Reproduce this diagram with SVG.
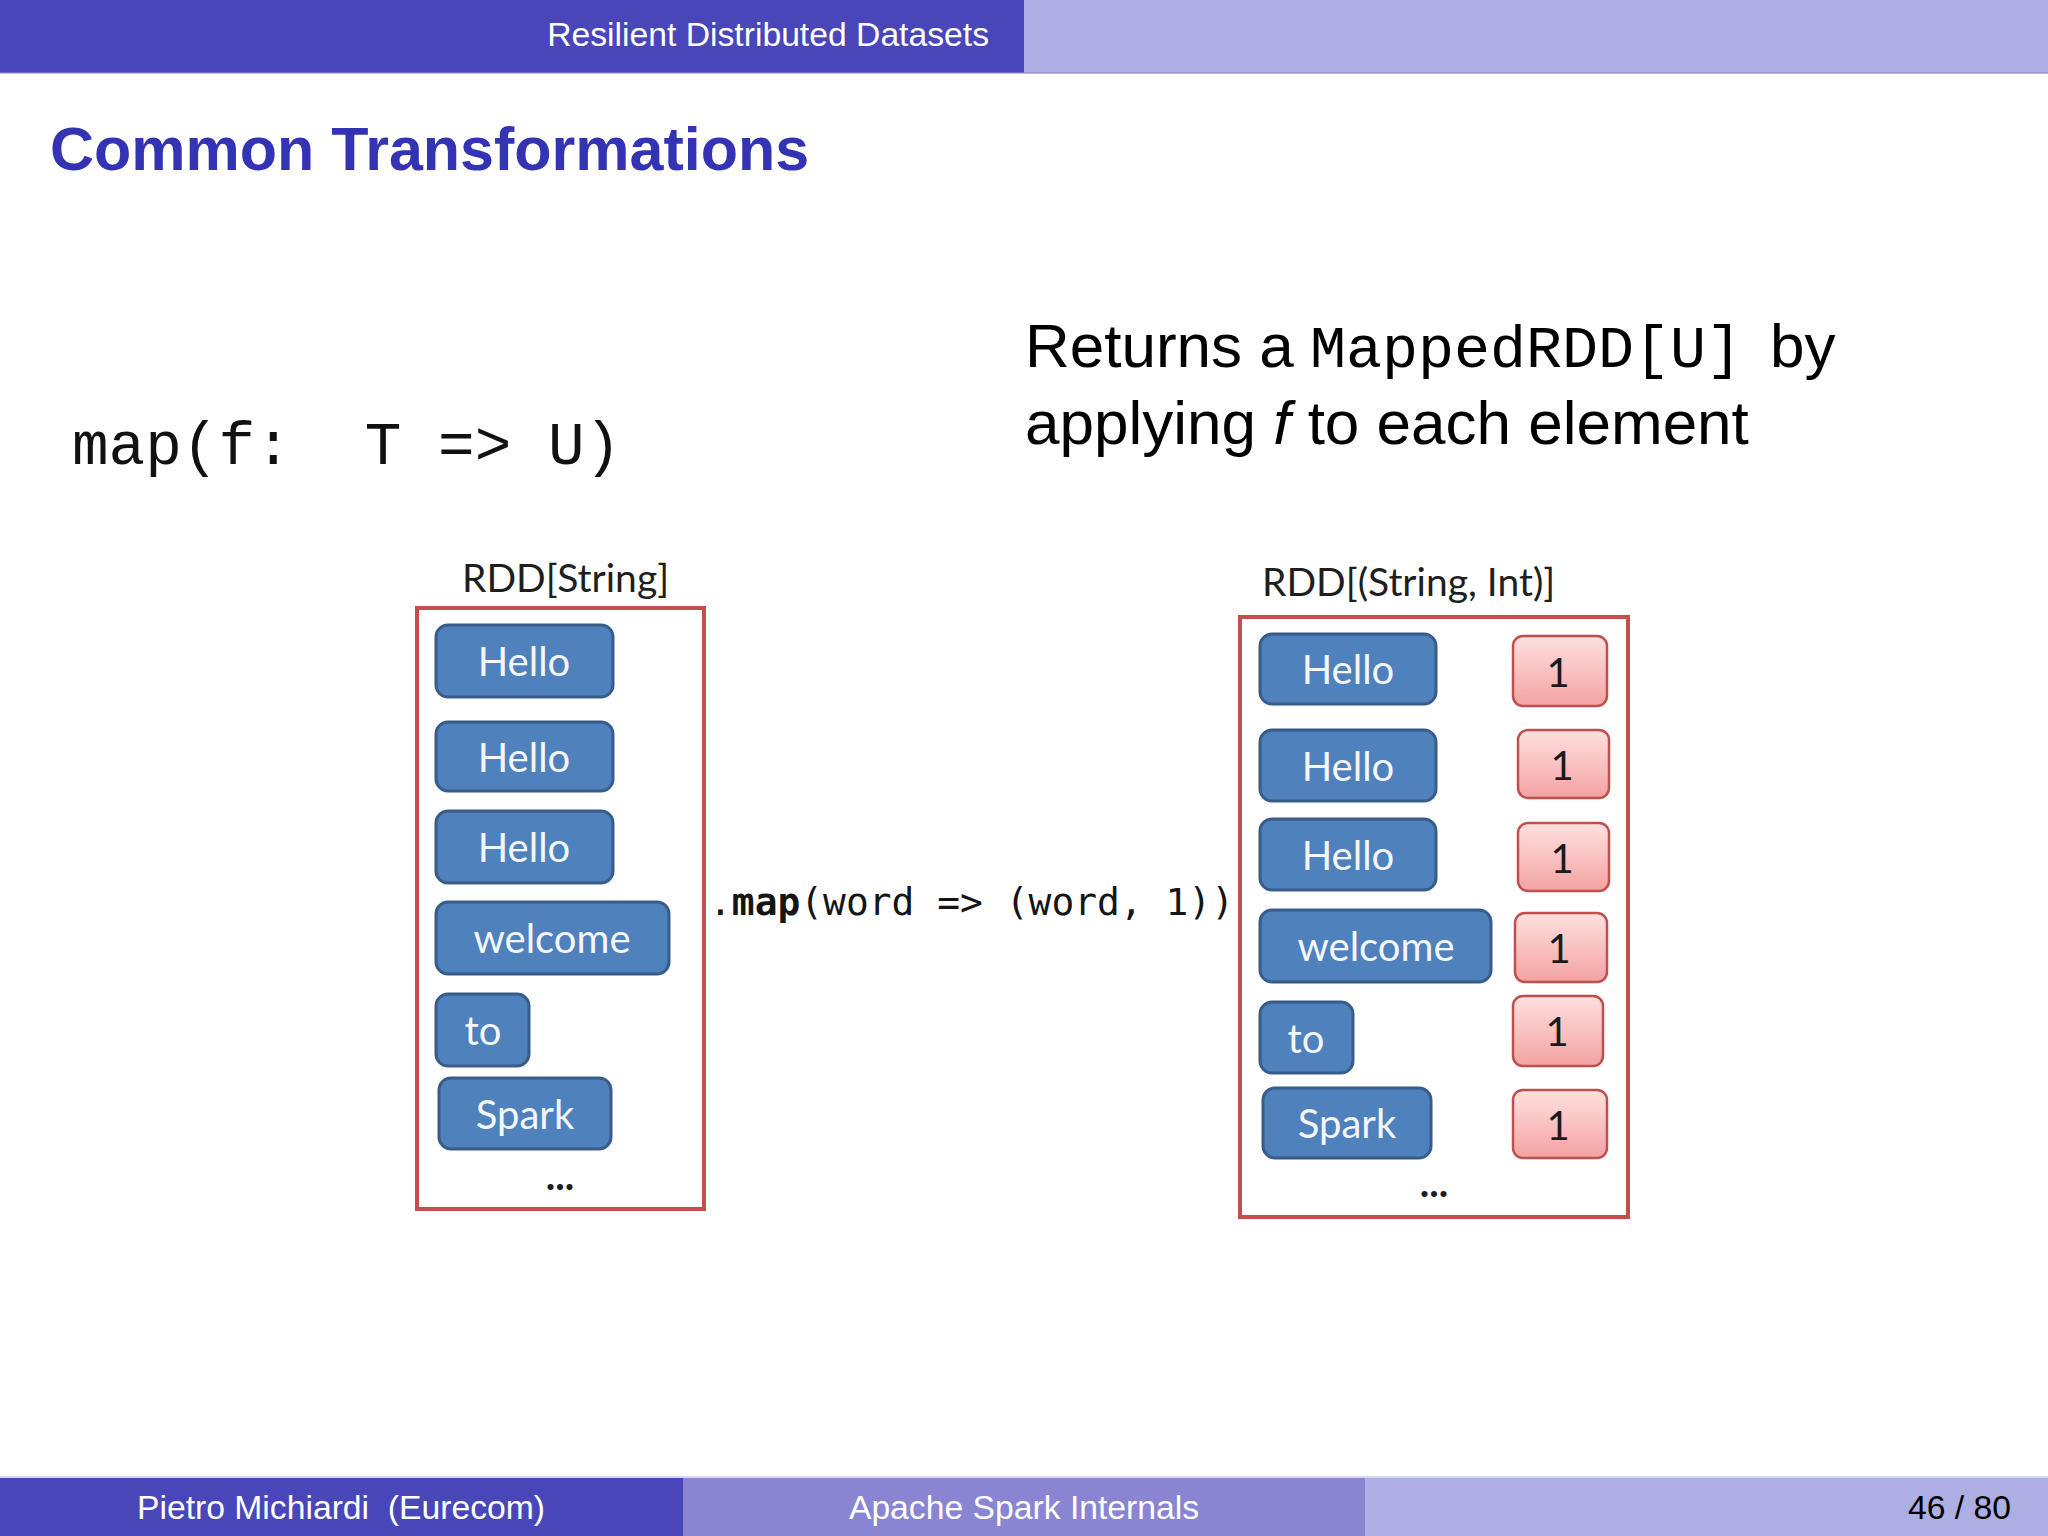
<svg xmlns="http://www.w3.org/2000/svg" width="2048" height="1536" viewBox="0 0 2048 1536">
<defs>
<linearGradient id="pink" x1="0" y1="0" x2="0" y2="1">
<stop offset="0" stop-color="#ffe0e0"/>
<stop offset="1" stop-color="#f4a2a2"/>
</linearGradient>
<style>
.sans{font-family:"Liberation Sans",Arial,sans-serif}
.mono{font-family:"Liberation Mono","Courier New",monospace}
.frame{fill:none;stroke:#c0504d;stroke-width:4}
.blue rect{fill:#4f81bd;stroke:#385d8a;stroke-width:3}
.blue text{fill:#f4f6fa;font-family:Lato,"Open Sans",sans-serif;font-size:40px;text-anchor:middle}
.pinkb rect{fill:url(#pink);stroke:#c0504d;stroke-width:2.5}
.pinkb text{fill:#1a1a1a;font-family:Lato,"Open Sans",sans-serif;font-size:40px;text-anchor:middle}
.lbl{font-family:Lato,"Open Sans",sans-serif;font-size:39px;fill:#1e1e1e}
.dots{font-family:Lato,sans-serif;font-size:40px;font-weight:bold;fill:#1e1e1e;text-anchor:middle}
.hdr{font-family:"Liberation Sans",Arial,sans-serif;font-size:33.7px;fill:#ffffff}
</style>
</defs>
<rect width="2048" height="1536" fill="#ffffff"/>
<g id="header">
<rect x="0" y="0" width="1024" height="73" fill="#4946b9"/>
<rect x="1024" y="0" width="1024" height="73" fill="#adaee3"/>
<rect x="0" y="72" width="2048" height="2" fill="#8f8cd0" opacity="0.6"/>
<text class="hdr" x="989" y="46" text-anchor="end">Resilient Distributed Datasets</text>
</g>
<text id="title" class="sans" x="50" y="170" font-size="61" font-weight="bold" fill="#3333b3">Common Transformations</text>
<text id="signature" class="mono" x="72" y="464" font-size="61" fill="#111" xml:space="preserve">map(f:  T =&gt; U)</text>
<text id="desc" class="sans" font-size="62" fill="#000">
<tspan x="1025" y="367">Returns a </tspan><tspan class="mono" x="1310" y="367" font-size="60">MappedRDD[U]</tspan><tspan x="1770" y="367">by</tspan>
<tspan x="1025" y="444">applying <tspan font-style="italic">f</tspan> to each element</tspan>
</text>
<g id="rdd-string">
<text class="lbl" x="462" y="592">RDD[String]</text>
<rect class="frame" x="417" y="608" width="287" height="601"/>
<g id="l-hello1" class="blue"><rect x="436" y="625" width="177" height="72" rx="12"/><text x="524" y="676">Hello</text></g>
<g id="l-hello2" class="blue"><rect x="436" y="722" width="177" height="69" rx="12"/><text x="524" y="772">Hello</text></g>
<g id="l-hello3" class="blue"><rect x="436" y="811" width="177" height="72" rx="12"/><text x="524" y="862">Hello</text></g>
<g id="l-welcome" class="blue"><rect x="436" y="902" width="233" height="72" rx="12"/><text x="552" y="953">welcome</text></g>
<g id="l-to" class="blue"><rect x="436" y="994" width="93" height="72" rx="12"/><text x="483" y="1045">to</text></g>
<g id="l-spark" class="blue"><rect x="439" y="1078" width="172" height="71" rx="12"/><text x="525" y="1129">Spark</text></g>
<text class="dots" x="560" y="1190">...</text>
</g>
<g id="connectors">
<text id="map-label" font-family="'DejaVu Sans Mono','Liberation Mono',monospace" font-size="37" fill="#151515" x="709" y="915" textLength="525" lengthAdjust="spacingAndGlyphs" xml:space="preserve">.<tspan font-weight="bold">map</tspan>(word =&gt; (word, 1))</text>
</g>
<g id="rdd-string-int">
<text class="lbl" x="1262" y="596">RDD[(String, Int)]</text>
<rect class="frame" x="1240" y="617" width="388" height="600"/>
<g id="r-hello1" class="blue"><rect x="1260" y="634" width="176" height="70" rx="12"/><text x="1348" y="684">Hello</text></g>
<g id="r-hello2" class="blue"><rect x="1260" y="730" width="176" height="71" rx="12"/><text x="1348" y="781">Hello</text></g>
<g id="r-hello3" class="blue"><rect x="1260" y="819" width="176" height="71" rx="12"/><text x="1348" y="870">Hello</text></g>
<g id="r-welcome" class="blue"><rect x="1260" y="910" width="231" height="72" rx="12"/><text x="1376" y="961">welcome</text></g>
<g id="r-to" class="blue"><rect x="1260" y="1002" width="93" height="71" rx="12"/><text x="1306" y="1053">to</text></g>
<g id="r-spark" class="blue"><rect x="1263" y="1088" width="168" height="70" rx="12"/><text x="1347" y="1138">Spark</text></g>
<g id="one1" class="pinkb"><rect x="1513" y="636" width="94" height="70" rx="10"/><text x="1558" y="687">1</text></g>
<g id="one2" class="pinkb"><rect x="1518" y="730" width="91" height="68" rx="10"/><text x="1562" y="780">1</text></g>
<g id="one3" class="pinkb"><rect x="1518" y="823" width="91" height="68" rx="10"/><text x="1562" y="873">1</text></g>
<g id="one4" class="pinkb"><rect x="1515" y="913" width="92" height="69" rx="10"/><text x="1559" y="963">1</text></g>
<g id="one5" class="pinkb"><rect x="1513" y="996" width="90" height="70" rx="10"/><text x="1557" y="1046">1</text></g>
<g id="one6" class="pinkb"><rect x="1513" y="1090" width="94" height="68" rx="10"/><text x="1558" y="1140">1</text></g>
<text class="dots" x="1434" y="1197">...</text>
</g>
<g id="footer">
<rect x="0" y="1476" width="2048" height="2" fill="#d8d8f0"/>
<rect x="0" y="1478" width="683" height="58" fill="#4946b9"/>
<rect x="683" y="1478" width="682" height="58" fill="#8985d2"/>
<rect x="1365" y="1478" width="683" height="58" fill="#adaee3"/>
<text class="hdr" x="341" y="1519" text-anchor="middle" xml:space="preserve">Pietro Michiardi  (Eurecom)</text>
<text class="hdr" x="1024" y="1519" text-anchor="middle">Apache Spark Internals</text>
<text class="hdr" x="2011" y="1519" text-anchor="end" style="fill:#000">46 / 80</text>
</g>
</svg>
